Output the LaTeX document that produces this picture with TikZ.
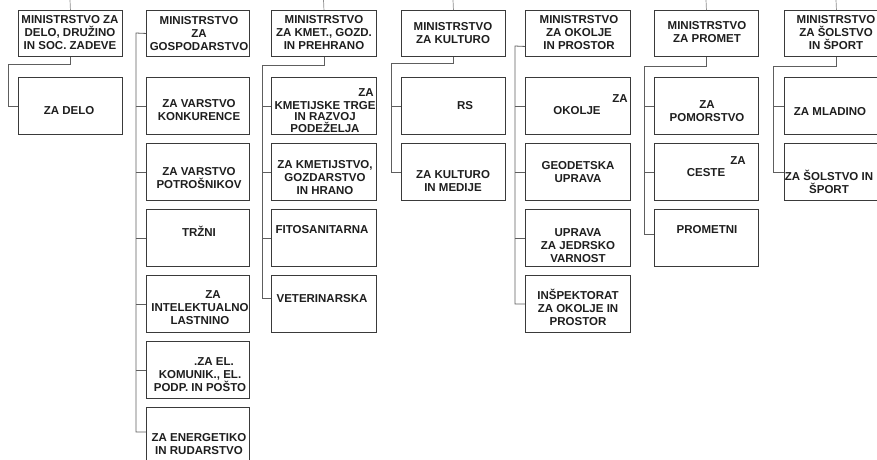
\documentclass[tikz,border=0pt]{standalone}
\usepackage{fontspec}
\setmainfont{Liberation Sans}
\usetikzlibrary{calc}
\definecolor{boxline}{HTML}{3A3A3A}
\definecolor{connline}{HTML}{5E5E5E}
\definecolor{txtcol}{HTML}{1E1E1E}
\tikzset{
  box/.style={draw=boxline, line width=0.9pt, anchor=north west, inner sep=0pt,
              minimum width=#1, minimum height=57pt},
  box/.default=104pt,
  mbox/.style={box=#1, minimum height=46pt},
  mbox/.default=104pt,
  conn/.style={draw=connline, line width=0.8pt},
  stub/.style={draw=connline!70, line width=0.7pt},
  txt/.style={text=txtcol, align=center, inner sep=0pt,
              font=\fontsize{11.5}{13}\selectfont\bfseries},
  tighttxt/.style={txt, font=\fontsize{11.5}{11.6}\selectfont\bfseries}
}
\begin{document}
\begin{tikzpicture}[x=1pt, y=-1pt]
\useasboundingbox (0,0) rectangle (877,459);
\clip (0,0) rectangle (877,459);

% ---------- column 1 ----------
\node[mbox] (m1) at (18,10) {};
\node[box] (x1c1) at (18,77) {};
\node[txt] at (70,33) {MINISTRSTVO ZA\\DELO, DRUŽINO\\IN SOC. ZADEVE};
\node[txt] at (69,111) {ZA DELO};
\coordinate (t1) at (70,0);
\coordinate (j1) at (8,64);
\draw[stub] (m1.north) -- (t1);
\draw[conn] (m1.south) |- (j1) |- (x1c1.west);

% ---------- column 2 ----------
\node[mbox=103pt] (m2) at (146,10) {};
\node[box=103pt] (x2c1) at (146,77) {};
\node[box=103pt] (x2c2) at (146,143) {};
\node[box=103pt] (x2c3) at (146,209) {};
\node[box=103pt] (x2c4) at (146,275) {};
\node[box=103pt] (x2c5) at (146,341) {};
\node[box=103pt] (x2c6) at (146,407) {};
\node[txt] at (199,34) {MINISTRSTVO\\ZA\\GOSPODARSTVO};
\node[txt] at (199,110) {ZA VARSTVO\\KONKURENCE};
\node[txt] at (199,178) {ZA VARSTVO\\POTROŠNIKOV};
\node[txt] at (199,231) {TRŽNI};
\node[txt] at (213,295) {ZA};
\node[txt] at (200,314.5) {INTELEKTUALNO\\LASTNINO};
\node[txt] at (214,362) {.ZA EL.};
\node[txt] at (200,381.5) {KOMUNIK., EL.\\PODP. IN POŠTO};
\node[txt] at (199,444) {ZA ENERGETIKO\\IN RUDARSTVO};
\coordinate (v2) at (136,33);
\draw[conn] (m2.west) -- (v2) |- ([yshift=4pt]x2c6.west);
\foreach \c in {x2c1,x2c2,x2c3,x2c4,x2c5}
  \draw[conn] (\c.west) -- (\c.west -| v2);

% ---------- column 3 ----------
\node[mbox=105pt] (m3) at (271,10) {};
\node[box=105pt] (x3c1) at (271,77) {};
\node[box=105pt] (x3c2) at (271,143) {};
\node[box=105pt] (x3c3) at (271,209) {};
\node[box=105pt] (x3c4) at (271,275) {};
\node[txt] at (324,33) {MINISTRSTVO\\ZA KMET., GOZD.\\IN PREHRANO};
\node[txt] at (366,93) {ZA};
\node[tighttxt] at (325,117) {KMETIJSKE TRGE\\IN RAZVOJ\\PODEŽELJA};
\node[txt] at (325,178) {ZA KMETIJSTVO,\\GOZDARSTVO\\IN HRANO};
\node[txt] at (322,230) {FITOSANITARNA};
\node[txt] at (322,299) {VETERINARSKA};
\coordinate (t3) at (323.5,0);
\coordinate (j3) at (262,65);
\draw[stub] (m3.north) -- (t3);
\draw[conn] (m3.south) |- (j3) |- ([yshift=6pt]x3c4.west);
\foreach \c in {x3c1,x3c2,x3c3}
  \draw[conn] (\c.west) -- (\c.west -| j3);

% ---------- column 4 ----------
\node[mbox] (m4) at (401,10) {};
\node[box] (x4c1) at (401,77) {};
\node[box] (x4c2) at (401,143) {};
\node[txt] at (453,33) {MINISTRSTVO\\ZA KULTURO};
\node[txt] at (465,106) {RS};
\node[txt] at (453,181) {ZA KULTURO\\IN MEDIJE};
\coordinate (t4) at (453,0);
\coordinate (j4) at (391,63);
\draw[stub] (m4.north) -- (t4);
\draw[conn] (m4.south) |- (j4) |- (x4c2.west);
\draw[conn] (x4c1.west) -- (x4c1.west -| j4);

% ---------- column 5 ----------
\node[mbox=105pt] (m5) at (525,10) {};
\node[box=105pt] (x5c1) at (525,77) {};
\node[box=105pt] (x5c2) at (525,143) {};
\node[box=105pt] (x5c3) at (525,209) {};
\node[box=105pt] (x5c4) at (525,275) {};
\node[txt] at (579,33) {MINISTRSTVO\\ZA OKOLJE\\IN PROSTOR};
\node[txt] at (620,99) {ZA};
\node[txt] at (577,111) {OKOLJE};
\node[txt] at (578,172) {GEODETSKA\\UPRAVA};
\node[txt] at (578,246) {UPRAVA\\ZA JEDRSKO\\VARNOST};
\node[txt] at (578,307) {INŠPEKTORAT\\ZA OKOLJE IN\\PROSTOR};
\coordinate (v5) at (515,46);
\draw[conn] ([yshift=-13pt]m5.west) -- (v5) |- (x5c4.west);
\foreach \c in {x5c1,x5c2,x5c3}
  \draw[conn] (\c.west) -- (\c.west -| v5);

% ---------- column 6 ----------
\node[mbox] (m6) at (654,10) {};
\node[box] (x6c1) at (654,77) {};
\node[box] (x6c2) at (654,143) {};
\node[box] (x6c3) at (654,209) {};
\node[txt] at (707,32) {MINISTRSTVO\\ZA PROMET};
\node[txt] at (707,111) {ZA\\POMORSTVO};
\node[txt] at (738,161) {ZA};
\node[txt] at (706,173) {CESTE};
\node[txt] at (707,230) {PROMETNI};
\coordinate (t6) at (706,0);
\coordinate (j6) at (644,66);
\draw[stub] (m6.north) -- (t6);
\draw[conn] (m6.south) |- (j6) |- ([yshift=4pt]x6c3.west);
\foreach \c in {x6c1,x6c2}
  \draw[conn] (\c.west) -- (\c.west -| j6);

% ---------- column 7 ----------
\node[mbox] (m7) at (784,10) {};
\node[box] (x7c1) at (784,77) {};
\node[box] (x7c2) at (784,143) {};
\node[txt] at (836,33) {MINISTRSTVO\\ZA ŠOLSTVO\\IN ŠPORT};
\node[txt] at (830,112) {ZA MLADINO};
\node[txt] at (829,182) {ZA ŠOLSTVO IN\\ŠPORT};
\coordinate (t7) at (836,0);
\coordinate (j7) at (773,66);
\draw[stub] (m7.north) -- (t7);
\draw[conn] (m7.south) |- (j7) |- (x7c2.west);
\draw[conn] (x7c1.west) -- (x7c1.west -| j7);
\end{tikzpicture}
\end{document}
